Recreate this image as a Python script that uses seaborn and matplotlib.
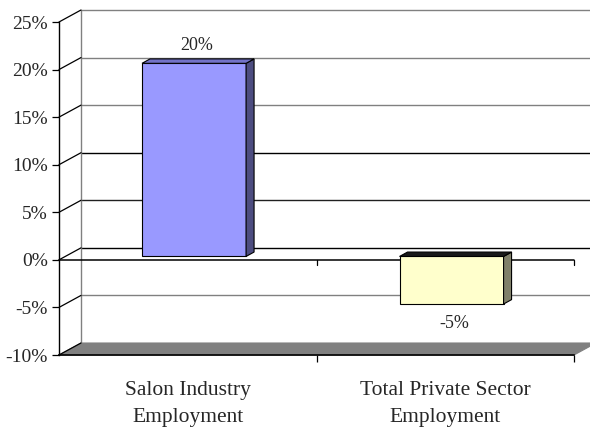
import matplotlib
matplotlib.use("Agg")
import matplotlib.pyplot as plt
import seaborn as sns
import pandas as pd
from matplotlib.patches import Polygon
from matplotlib.transforms import offset_copy

categories = ["Salon Industry\nEmployment", "Total Private Sector\nEmployment"]
values = [20.3, -5.0]
labels = ["20%", "-5%"]
yticks = [-10, -5, 0, 5, 10, 15, 20, 25]
ytick_labels = ["-10%", "-5%", "0%", "5%", "10%", "15%", "20%", "25%"]
front_colors = ["#9999FF", "#FFFFCC"]
side_colors = ["#4D4D80", "#80806A"]
top_colors = ["#7373C8", "#1A1A1A"]

sns.set_theme(style="white")
plt.rcParams["font.family"] = ["Liberation Serif", "DejaVu Serif"]

W, H = 590, 430
fig = plt.figure(figsize=(W / 100, H / 100), dpi=100)
L, R, T, B = 59, 574, 22, 355
ax = fig.add_axes([L / W, 1 - B / H, (R - L) / W, (B - T) / H])

ymin, ymax = -10, 25
ux = 2.0 / (R - L)
uy = (ymax - ymin) / (B - T)
DX, DY = 22 * ux, 12 * uy        # full depth offset
fx, fy = 6.3 * ux, 3.4 * uy      # bar front offset
bx, by = 8 * ux, 4.4 * uy        # bar depth

df = pd.DataFrame({"cat": categories, "val": values})
sns.barplot(data=df, x="cat", y="val", hue="cat", palette=front_colors, legend=False,
            saturation=1, width=0.404, edgecolor="black", linewidth=0.8, ax=ax, zorder=5)
bars = [p for p in ax.patches]

ax.set_xlim(-0.5, 1.5)
ax.set_ylim(ymin, ymax)

# floor
floor = Polygon([(-0.5, ymin), (1.5, ymin), (1.5 + DX, ymin + DY), (-0.5 + DX, ymin + DY)],
                closed=True, facecolor="#808080", edgecolor="#808080", lw=0.8,
                clip_on=False, zorder=1)
ax.add_patch(floor)

# back wall gridlines and left side wall diagonals
grid_col = {25: "#808080", 20: "#808080", 15: "#808080", 10: "#000000",
            5: "#202020", 0: "#000000", -5: "#808080"}
for t in yticks:
    if t > ymin:
        ax.plot([-0.5 + DX, 1.5 + DX + 0.1], [t + DY, t + DY], color=grid_col.get(t, "#808080"),
                lw=1.0, clip_on=False, zorder=1)
    ax.plot([-0.5, -0.5 + DX], [t, t + DY], color="black", lw=0.9, clip_on=False, zorder=2)
ax.plot([-0.5 + DX, -0.5 + DX], [ymin + DY, ymax + DY], color="#808080", lw=1.0,
        clip_on=False, zorder=1)

# front zero line with boundary ticks
ax.plot([-0.5, 1.5], [0, 0], color="black", lw=1.1, zorder=3, clip_on=False)
for xb in [0.5, 1.5]:
    ax.plot([xb, xb], [0, -5 * uy], color="black", lw=0.9, zorder=3, clip_on=False)

# 3D bar faces + labels
for p, sc, tc, lab, v in zip(bars, side_colors, top_colors, labels, values):
    p.set_x(p.get_x() + fx)
    p.set_y(p.get_y() + fy)
    x0, y0 = p.get_x(), p.get_y()
    w, h = p.get_width(), p.get_height()
    x1 = x0 + w
    ytop = max(y0, y0 + h)
    ybot = min(y0, y0 + h)
    side = Polygon([(x1, ybot), (x1 + bx, ybot + by), (x1 + bx, ytop + by), (x1, ytop)],
                   closed=True, facecolor=sc, edgecolor="black", lw=0.8, zorder=5)
    top = Polygon([(x0, ytop), (x1, ytop), (x1 + bx, ytop + by), (x0 + bx, ytop + by)],
                  closed=True, facecolor=tc, edgecolor="black", lw=0.8, zorder=5)
    ax.add_patch(side)
    ax.add_patch(top)
    xc = x0 + w / 2 + 3 * ux
    if v >= 0:
        ax.text(xc, ytop, lab, ha="center", va="center", fontsize=13, zorder=6,
                transform=offset_copy(ax.transData, fig=fig, x=0, y=18, units="dots"))
    else:
        ax.text(xc, ybot, lab, ha="center", va="center", fontsize=13, zorder=6,
                transform=offset_copy(ax.transData, fig=fig, x=0, y=-19, units="dots"))

# axes styling
for s in ["top", "right"]:
    ax.spines[s].set_visible(False)
ax.spines["left"].set_color("black")
ax.spines["left"].set_linewidth(1.0)
ax.spines["bottom"].set_color("black")
ax.spines["bottom"].set_linewidth(1.2)
ax.spines["bottom"].set_zorder(2)
ax.set_yticks(yticks)
ax.set_yticklabels(ytick_labels)
ax.tick_params(axis="y", left=True, length=5, width=0.9, color="black", pad=3,
               labelsize=14, direction="out")
ax.tick_params(axis="x", which="major", length=0, pad=18.5, labelsize=15.5)
ax.set_xticks([0.5, 1.5], minor=True)
ax.tick_params(axis="x", which="minor", bottom=True, length=5, width=0.9, color="black",
               direction="out")
for lbl in ax.get_xticklabels():
    lbl.set_linespacing(1.6)
ax.set_xlabel("")
ax.set_ylabel("")
ax.patch.set_alpha(0)

fig.savefig("out.png", dpi=100, facecolor="white")
